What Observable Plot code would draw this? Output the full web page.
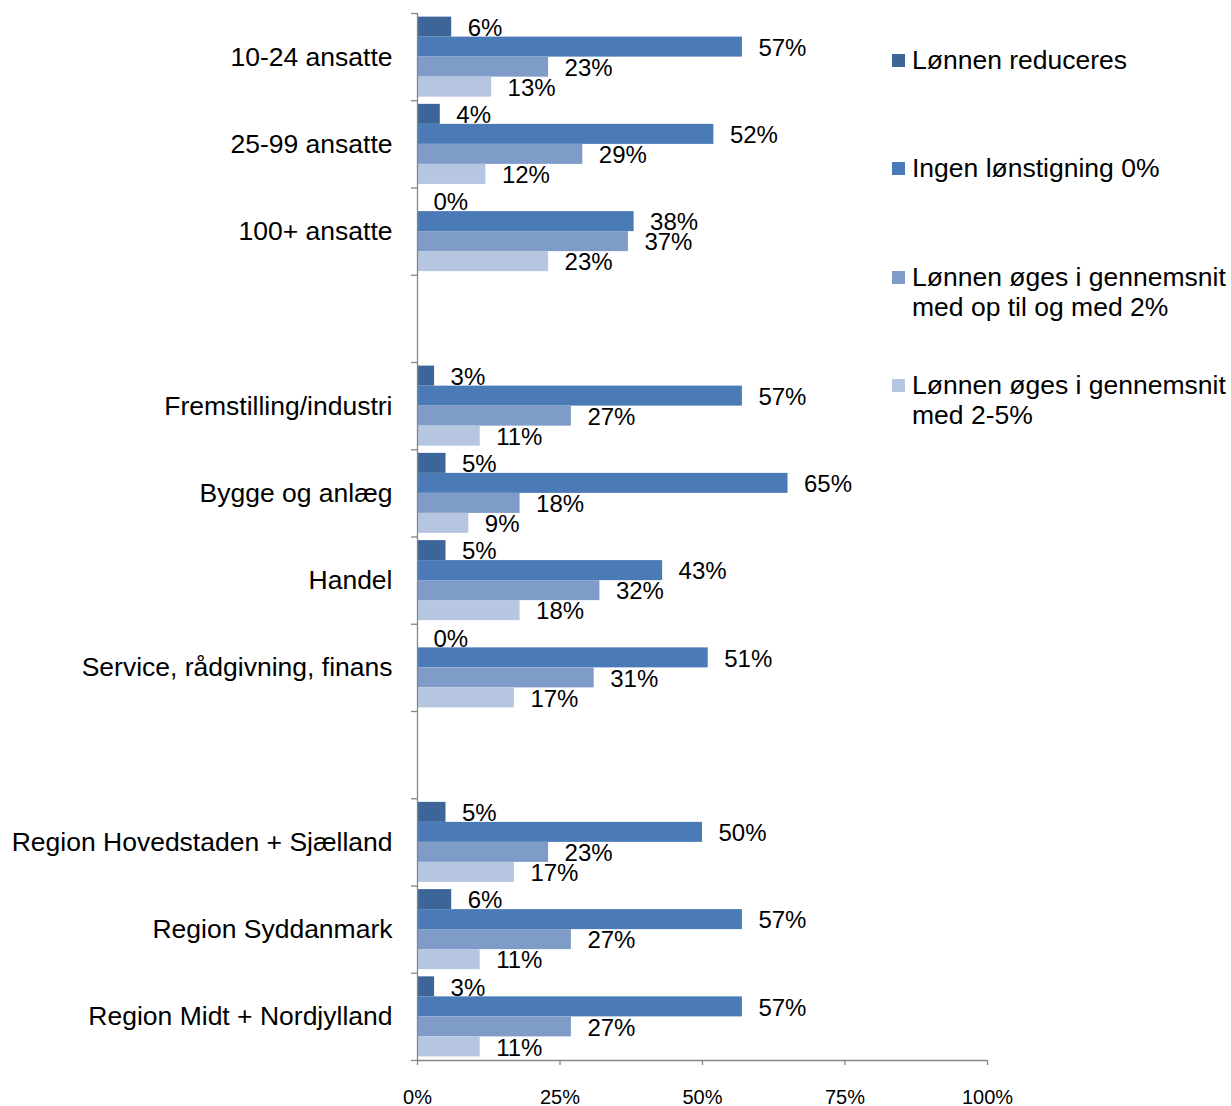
<!DOCTYPE html>
<html>
<head>
<meta charset="utf-8">
<script src="https://cdn.jsdelivr.net/npm/d3@7"></script>
<script src="https://cdn.jsdelivr.net/npm/@observablehq/plot@0.6"></script>
<style>
  html, body { margin: 0; padding: 0; background: #fff; overflow: hidden; }
  #wrap { position: relative; width: 1231px; height: 1106px; font-family: "Liberation Sans", Arial, sans-serif; }
  #chart { position: absolute; left: 0; top: 0; }
  .leg { position: absolute; left: 892px; width: 335px; }
  .leg .sw { position: absolute; left: 0; width: 13px; height: 13px; }
  .leg .tx { position: absolute; left: 20px; width: 319px; font-size: 26.5px; line-height: 30px; color: #000; }
</style>
</head>
<body>
<div id="wrap"><div id="chart"></div></div>
<script>
const categories = [
  "10-24 ansatte", "25-99 ansatte", "100+ ansatte", "",
  "Fremstilling/industri", "Bygge og anlæg", "Handel", "Service, rådgivning, finans", "",
  "Region Hovedstaden + Sjælland", "Region Syddanmark", "Region Midt + Nordjylland"
];
const seriesNames = [
  "Lønnen reduceres",
  "Ingen lønstigning 0%",
  "Lønnen øges i gennemsnit med op til og med 2%",
  "Lønnen øges i gennemsnit med 2-5%"
];
const lonnenReduceres = [6, 4, 0, null, 3, 5, 5, 0, null, 5, 6, 3];
const ingenLonstigning = [57, 52, 38, null, 57, 65, 43, 51, null, 50, 57, 57];
const opTil2 = [23, 29, 37, null, 27, 18, 32, 31, null, 23, 27, 27];
const fra2til5 = [13, 12, 23, null, 11, 9, 18, 17, null, 17, 11, 11];
const xTicks = [0, 25, 50, 75, 100];
const colors = ["#3D6598", "#4A7BB7", "#7F9CC8", "#B6C5E0"];

const seriesValues = [lonnenReduceres, ingenLonstigning, opTil2, fra2til5];
const barH = 1 / 4.36;
const off = 0.18 * barH;
const rows = [];
seriesValues.forEach((vals, j) => {
  vals.forEach((v, i) => {
    if (v == null) return;
    const y1 = i + off + j * barH;
    rows.push({series: seriesNames[j], value: v, i, y1, y2: y1 + barH, ym: y1 + barH / 2});
  });
});

const chart = Plot.plot({
  width: 1231,
  height: 1106,
  marginLeft: 417,
  marginRight: 244,
  marginTop: 13,
  marginBottom: 46,
  style: {fontFamily: "'Liberation Sans', Arial, sans-serif", color: "#000", background: "#fff", overflow: "visible"},
  x: {domain: [0, 100], label: null},
  y: {domain: [0, categories.length], reverse: true, label: null},
  color: {domain: seriesNames, range: colors},
  marks: [
    Plot.rectX(rows, {x1: 0, x2: "value", y1: "y1", y2: "y2", fill: "series"}),
    Plot.text(rows, {
      x: "value", y: "ym", text: d => d.value + "%",
      textAnchor: "start", dx: 16, dy: 1, fontSize: 24, fill: "#000"
    }),
    Plot.ruleX([0], {stroke: "#868686", strokeWidth: 1.3}),
    Plot.ruleY([categories.length], {stroke: "#868686", strokeWidth: 1.3}),
    Plot.axisY({
      ticks: d3.range(categories.length + 1), tickSize: 6, tickFormat: () => "",
      stroke: "#868686", strokeWidth: 1.3, label: null
    }),
    Plot.axisY({
      ticks: categories.map((c, i) => i + 0.5), tickSize: 0, tickPadding: 25,
      tickFormat: d => categories[Math.floor(d)], fontSize: 26.5, fill: "#000", label: null
    }),
    Plot.axisX({
      ticks: xTicks, tickSize: 5, tickPadding: 24, tickFormat: d => d + "%",
      fontSize: 20, stroke: "#868686", strokeWidth: 1.3, fill: "#000", label: null
    })
  ]
});
document.getElementById("chart").appendChild(chart);

// legend
const wrap = document.getElementById("wrap");
const legendCenters = [60, 168, 277, 385];
seriesNames.forEach((name, k) => {
  const item = document.createElement("div");
  item.className = "leg";
  item.style.top = (legendCenters[k] - 15) + "px";
  const sw = document.createElement("div");
  sw.className = "sw";
  sw.style.background = colors[k];
  sw.style.top = "8.5px";
  const tx = document.createElement("div");
  tx.className = "tx";
  tx.style.top = "0px";
  tx.textContent = name;
  item.appendChild(sw);
  item.appendChild(tx);
  wrap.appendChild(item);
});
</script>
</body>
</html>
